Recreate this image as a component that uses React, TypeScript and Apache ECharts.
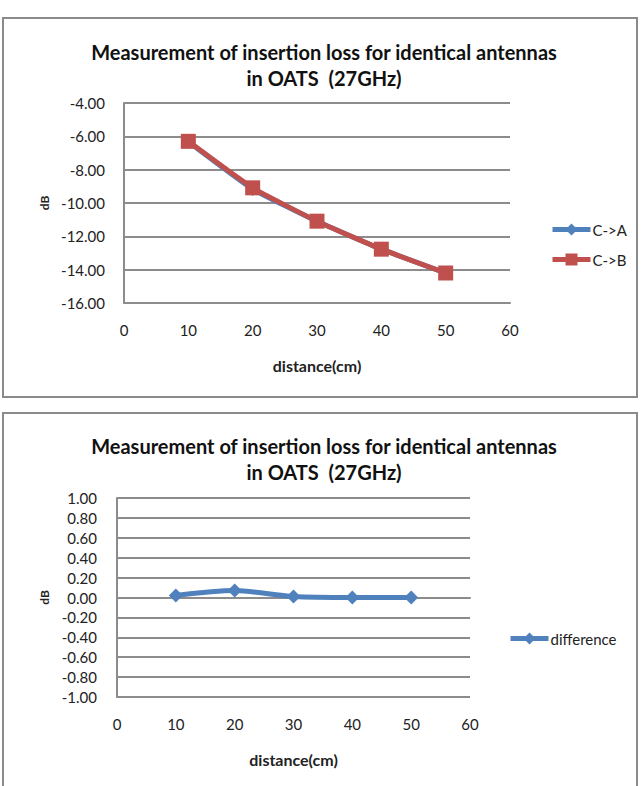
import React, { useEffect, useRef } from "react";
import * as echarts from "echarts";

const distances = [10, 20, 30, 40, 50];
const cToA = [-6.32, -9.16, -11.1, -12.77, -14.2];
const cToB = [-6.3, -9.09, -11.09, -12.77, -14.2];
const difference = [0.02, 0.07, 0.01, 0.0, 0.0];

const titleText = "Measurement of insertion loss for identical antennas\nin OATS  (27GHz)";
const FONT = "Lato, 'Open Sans', sans-serif";
const BLUE = "#4F81BD";
const RED = "#C0504D";
const GRID = "#8c8c8c";

export default function App() {
  const ref = useRef<HTMLDivElement>(null);
  useEffect(() => {
    if (!ref.current) return;
    const chart = echarts.init(ref.current, null, { renderer: "svg" });
    const pairs = (ys: number[]) => distances.map((x, i) => [x, ys[i]]);
    const xAxisBase = (gridIndex: number) => ({
      type: "value" as const,
      gridIndex,
      min: 0,
      max: 60,
      interval: 10,
      name: "distance(cm)",
      nameLocation: "middle" as const,
      nameGap: 54,
      nameTextStyle: { fontFamily: FONT, fontWeight: "bold", fontSize: 16, color: "#222" },
      axisLine: { show: true, lineStyle: { color: GRID, width: 2 } },
      axisTick: { show: false },
      splitLine: { show: false },
      axisLabel: { fontFamily: FONT, fontSize: 15, color: "#222", margin: 19 },
    });
    const titleStyle = { fontFamily: FONT, fontWeight: "bold", fontSize: 20, lineHeight: 26, color: "#111" };
    const legendText = { fontFamily: FONT, fontSize: 15, color: "#222", padding: [0, 0, 0, -3] };
    chart.setOption({
      animation: false,
      backgroundColor: "#fff",
      graphic: [
        { type: "rect", shape: { x: 3, y: 18, width: 634, height: 379 }, style: { fill: "none", stroke: "#8a8a8a", lineWidth: 2 } },
        { type: "rect", shape: { x: 3, y: 413, width: 634, height: 380 }, style: { fill: "none", stroke: "#8a8a8a", lineWidth: 2 } },
      ],
      title: [
        { text: titleText, left: 319, top: 34, textAlign: "center", textStyle: titleStyle },
        { text: titleText, left: 319, top: 428, textAlign: "center", textStyle: titleStyle },
      ],
      legend: [
        {
          data: ["C->A", "C->B"],
          orient: "vertical",
          left: 545,
          top: 217,
          itemWidth: 38,
          itemHeight: 15,
          itemGap: 15,
          lineStyle: { width: 5 },
          textStyle: legendText,
        },
        {
          data: ["difference"],
          orient: "vertical",
          left: 503,
          top: 626,
          itemWidth: 38,
          itemHeight: 15,
          lineStyle: { width: 5 },
          textStyle: legendText,
        },
      ],
      grid: [
        { left: 124, top: 103, width: 386, height: 200 },
        { left: 117, top: 498, width: 353, height: 199 },
      ],
      xAxis: [xAxisBase(0), xAxisBase(1)],
      yAxis: [
        {
          type: "value",
          gridIndex: 0,
          min: -16,
          max: -4,
          interval: 2,
          name: "dB",
          nameLocation: "middle",
          nameRotate: 90,
          nameGap: 73,
          nameTextStyle: { fontFamily: FONT, fontWeight: "bold", fontSize: 12, color: "#222" },
          axisLine: { show: true, lineStyle: { color: GRID, width: 2 } },
          axisTick: { show: false },
          splitLine: { show: true, lineStyle: { color: GRID, width: 2 } },
          axisLabel: { fontFamily: FONT, fontSize: 15, color: "#222", margin: 19, formatter: (v: number) => v.toFixed(2) },
        },
        {
          type: "value",
          gridIndex: 1,
          min: -1,
          max: 1,
          interval: 0.2,
          name: "dB",
          nameLocation: "middle",
          nameRotate: 90,
          nameGap: 67,
          nameTextStyle: { fontFamily: FONT, fontWeight: "bold", fontSize: 12, color: "#222" },
          axisLine: { show: true, lineStyle: { color: GRID, width: 2 } },
          axisTick: { show: false },
          splitLine: { show: true, lineStyle: { color: GRID, width: 2 } },
          axisLabel: { fontFamily: FONT, fontSize: 15, color: "#222", margin: 20, formatter: (v: number) => v.toFixed(2) },
        },
      ],
      series: [
        {
          name: "C->A",
          type: "line",
          xAxisIndex: 0,
          yAxisIndex: 0,
          data: pairs(cToA),
          symbol: "diamond",
          symbolSize: 14,
          itemStyle: { color: BLUE },
          lineStyle: { color: BLUE, width: 5 },
          smooth: 0.15,
        },
        {
          name: "C->B",
          type: "line",
          xAxisIndex: 0,
          yAxisIndex: 0,
          data: pairs(cToB),
          symbol: "rect",
          symbolSize: 15,
          itemStyle: { color: RED },
          lineStyle: { color: RED, width: 5 },
          smooth: 0.15,
        },
        {
          name: "difference",
          type: "line",
          xAxisIndex: 1,
          yAxisIndex: 1,
          data: pairs(difference),
          symbol: "diamond",
          symbolSize: 14,
          itemStyle: { color: BLUE },
          lineStyle: { color: BLUE, width: 5 },
          smooth: 0.3,
        },
      ],
    });
    return () => chart.dispose();
  }, []);
  return <div ref={ref} style={{ position: "fixed", left: 0, top: 0, width: 643, height: 786 }} />;
}
